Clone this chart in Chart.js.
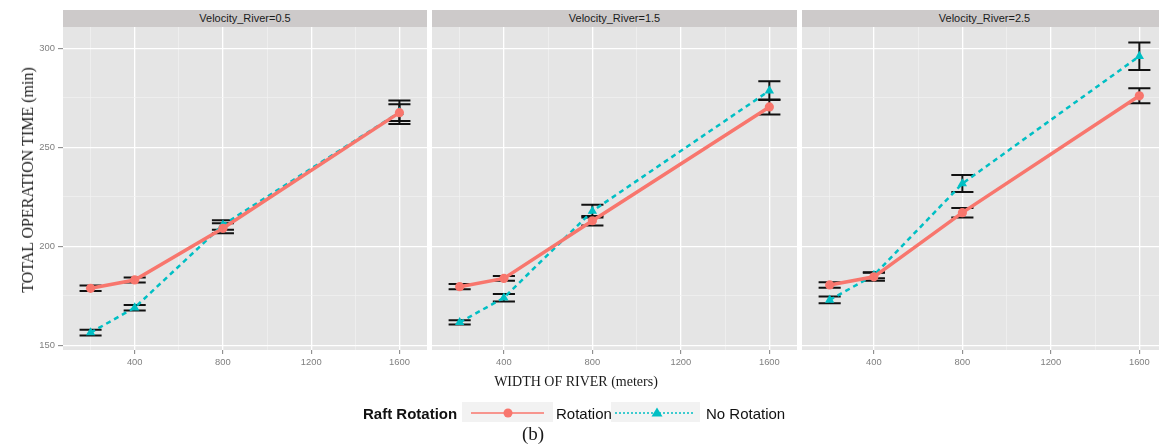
<!DOCTYPE html>
<html><head><meta charset="utf-8">
<script src="https://cdn.jsdelivr.net/npm/chart.js@4.4.1/dist/chart.umd.min.js"></script>
<style>
body{margin:0;width:1159px;height:444px;overflow:hidden;background:#fff;position:relative;font-family:"Liberation Sans",Arial,sans-serif;}
canvas{position:absolute;top:27px;}
.strip{position:absolute;top:10px;height:17px;background:#cdcaca;color:#1a1a1a;font-size:11px;line-height:17px;text-align:center;}
.serif{position:absolute;font-family:"Liberation Serif","Times New Roman",serif;color:#1a1a1a;white-space:nowrap;}
.leg{position:absolute;top:405px;font-size:15px;line-height:18px;color:#111;white-space:nowrap;}
svg{position:absolute;}
</style></head><body>
<div class="strip" style="left:63px;width:364px">Velocity_River=0.5</div>
<div class="strip" style="left:432px;width:365px">Velocity_River=1.5</div>
<div class="strip" style="left:802px;width:365px">Velocity_River=2.5</div>
<canvas id="c1" width="427" height="353" style="left:0px"></canvas>
<canvas id="c2" width="365" height="353" style="left:432px"></canvas>
<canvas id="c3" width="365" height="353" style="left:802px"></canvas>
<div class="serif" style="left:27.5px;top:180px;font-size:16px;transform:translate(-50%,-50%) rotate(-90deg);">TOTAL OPERATION TIME (min)</div>
<div class="serif" style="left:576px;top:382px;font-size:14px;transform:translate(-50%,-50%);">WIDTH OF RIVER (meters)</div>
<div class="serif" style="left:533px;top:434px;font-size:19px;transform:translate(-50%,-50%);">(b)</div>
<div class="leg" style="left:363px;font-weight:bold;">Raft Rotation</div>
<svg style="left:462px;top:402px" width="91" height="20"><rect x="0" y="0" width="91" height="20" fill="#f2f2f2"/><line x1="9" y1="11" x2="82" y2="11" stroke="#F8766D" stroke-width="1.5"/><circle cx="46" cy="11" r="4.5" fill="#F8766D"/></svg>
<div class="leg" style="left:556px;">Rotation</div>
<svg style="left:611px;top:402px" width="89" height="20"><rect x="0" y="0" width="89" height="20" fill="#f2f2f2"/><line x1="4" y1="11" x2="83" y2="11" stroke="#00BFC4" stroke-width="1.5" stroke-dasharray="2,2"/><polygon points="46,5.5 51.5,14.5 40.5,14.5" fill="#00BFC4"/></svg>
<div class="leg" style="left:706px;">No Rotation</div>
<script>
// ---- data ----
const widths = [200, 400, 800, 1600];
const panels = ['Velocity_River=0.5', 'Velocity_River=1.5', 'Velocity_River=2.5'];
const rot05 = [178.8, 183.0, 209.1, 267.5];
const rot05Err = [1.4, 1.3, 2.5, 4.2];
const noRot05 = [156.4, 169.0, 210.8, 267.7];
const noRot05Err = [1.4, 1.4, 2.4, 5.9];
const rot15 = [179.6, 183.8, 212.9, 270.4];
const rot15Err = [1.3, 1.2, 2.4, 3.8];
const noRot15 = [161.6, 174.0, 217.8, 278.6];
const noRot15Err = [1.1, 1.9, 3.2, 4.7];
const rot25 = [180.5, 184.6, 217.0, 276.0];
const rot25Err = [1.4, 2.0, 2.4, 3.8];
const noRot25 = [172.9, 185.4, 231.7, 296.0];
const noRot25Err = [1.7, 1.5, 4.3, 6.9];
const xMajor = [400, 800, 1200, 1600];
const xGridVals = [200, 400, 600, 800, 1000, 1200, 1400, 1600];
const yMajor = [150, 200, 250, 300];
const yGridVals = [150, 175, 200, 225, 250, 275, 300];
const capHalf = 50;

const bgPlugin = {
  id: 'bg',
  beforeDraw(chart) {
    const a = chart.chartArea, c = chart.ctx;
    c.save(); c.fillStyle = '#e5e5e5'; c.fillRect(a.left, a.top, a.right - a.left, a.bottom - a.top); c.restore();
  }
};
const errPlugin = {
  id: 'err',
  beforeDatasetsDraw(chart) {
    const c = chart.ctx, xs = chart.scales.x, ys = chart.scales.y;
    c.save(); c.strokeStyle = '#111'; c.lineWidth = 2;
    chart.data.datasets.forEach(ds => {
      ds.data.forEach((p, i) => {
        const e = ds.errors[i];
        const x = xs.getPixelForValue(p.x), x0 = xs.getPixelForValue(p.x - capHalf), x1 = xs.getPixelForValue(p.x + capHalf);
        const yt = ys.getPixelForValue(p.y + e), yb = ys.getPixelForValue(p.y - e);
        c.beginPath();
        c.moveTo(x, yt); c.lineTo(x, yb);
        c.moveTo(x0, yt); c.lineTo(x1, yt);
        c.moveTo(x0, yb); c.lineTo(x1, yb);
        c.stroke();
      });
    });
    c.restore();
  }
};

function makePanel(id, rot, rotErr, no, noErr, showY) {
  new Chart(document.getElementById(id), {
    type: 'line',
    data: {
      datasets: [
        { label: 'Rotation', data: widths.map((w, i) => ({x: w, y: rot[i]})), errors: rotErr,
          borderColor: '#F8766D', backgroundColor: '#F8766D', borderWidth: 3.5,
          pointStyle: 'circle', pointRadius: 4.6, pointBorderWidth: 0, pointBackgroundColor: '#F8766D' },
        { label: 'No Rotation', data: widths.map((w, i) => ({x: w, y: no[i]})), errors: noErr,
          borderColor: '#00BFC4', backgroundColor: '#00BFC4', borderWidth: 2.5, borderDash: [5, 4],
          pointStyle: 'triangle', pointRadius: 5.4, pointBorderWidth: 0, pointBackgroundColor: '#00BFC4' }
      ]
    },
    options: {
      responsive: false, animation: false, devicePixelRatio: 1,
      layout: { padding: 0, autoPadding: false },
      plugins: { legend: { display: false }, tooltip: { enabled: false } },
      scales: {
        x: {
          type: 'linear', min: 75, max: 1725,
          afterBuildTicks: s => { s.ticks = xGridVals.map(v => ({value: v})); },
          afterFit: s => { s.height = 30; s.paddingLeft = 0; s.paddingRight = 0; },
          border: { display: false },
          grid: {
            color: ctx => xMajor.includes(ctx.tick && ctx.tick.value) ? '#ffffff' : '#f2f2f2',
            lineWidth: ctx => xMajor.includes(ctx.tick && ctx.tick.value) ? 1.3 : 0.7,
            tickColor: ctx => xMajor.includes(ctx.tick && ctx.tick.value) ? '#7f7f7f' : 'rgba(0,0,0,0)',
            tickLength: 4, tickWidth: 1
          },
          ticks: { autoSkip: false, maxRotation: 0, padding: 3, color: '#7f7f7f', font: { size: 9.4, family: 'Liberation Sans' },
                   callback: v => xMajor.includes(v) ? String(v) : '' }
        },
        y: {
          type: 'linear', min: 147.63, max: 310.76,
          afterBuildTicks: s => { s.ticks = yGridVals.map(v => ({value: v})); },
          afterFit: s => { s.width = showY ? 63 : 0; s.paddingTop = 0; s.paddingBottom = 0; },
          border: { display: false },
          grid: {
            drawTicks: showY,
            color: ctx => yMajor.includes(ctx.tick && ctx.tick.value) ? '#ffffff' : '#f2f2f2',
            lineWidth: ctx => yMajor.includes(ctx.tick && ctx.tick.value) ? 1.3 : 0.7,
            tickColor: ctx => yMajor.includes(ctx.tick && ctx.tick.value) ? '#7f7f7f' : 'rgba(0,0,0,0)',
            tickLength: 5, tickWidth: 1
          },
          ticks: { display: showY, padding: 3, color: '#7f7f7f', font: { size: 9.4, family: 'Liberation Sans' },
                   callback: v => yMajor.includes(v) ? String(v) : '' }
        }
      }
    },
    plugins: [bgPlugin, errPlugin]
  });
}
makePanel('c1', rot05, rot05Err, noRot05, noRot05Err, true);
makePanel('c2', rot15, rot15Err, noRot15, noRot15Err, false);
makePanel('c3', rot25, rot25Err, noRot25, noRot25Err, false);
</script>
</body></html>
